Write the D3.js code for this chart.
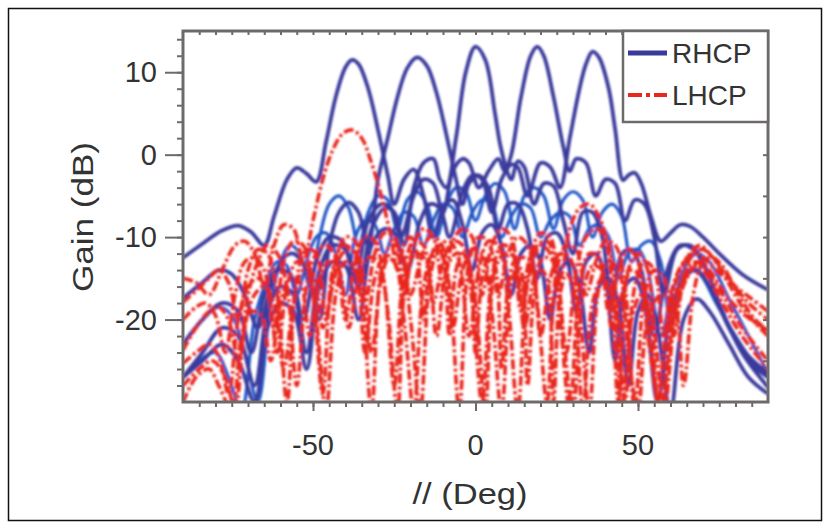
<!DOCTYPE html>
<html><head><meta charset="utf-8">
<script src="https://cdn.jsdelivr.net/npm/d3@7"></script>
<style>body{margin:0;background:#fff}svg{display:block}text{font-family:Arial,"Liberation Sans",sans-serif;fill:#333}</style>
</head><body>
<script>
// ---- data (deg, dB) ----
const xTicks = [-50, 0, 50];
const yTicks = [10, 0, -10, -20];
const legendLabels = ["RHCP", "LHCP"];

const rhcpBeam1 = [[-90,-12.5],[-84,-10.8],[-78,-9.2],[-73,-8.6],[-69,-9.4],[-65,-11],[-62,-7.5],[-58,-3],[-55,-1.6],[-52,-2.3],[-49,-3.3],[-46,1.5],[-43,7],[-40,10.6],[-38,11.5],[-36,11],[-33,8],[-30,3],[-27,-2.5],[-25,-6],[-22,-3],[-19,-1.8],[-16,-5],[-13,-10],[-10,-6.5],[-7,-5.5],[-4,-8.5],[-1,-14],[2,-9.5],[5,-8.5],[8,-11],[11,-17],[14,-12],[17,-11],[20,-13],[23,-20],[26,-14],[29,-13],[32,-16],[35,-24],[38,-16],[41,-15],[44,-18],[47,-28],[50,-19],[53,-17],[56,-21],[60,-31],[64,-20],[68,-17.5],[72,-19],[78,-23],[84,-27],[90,-29]];
const rhcpBeam2 = [[-90,-17.4],[-84,-15.5],[-79,-14],[-75,-14.5],[-71,-17],[-67,-21],[-63,-16],[-59,-12.5],[-56,-12],[-52,-14],[-48,-20],[-45,-11],[-42,-7],[-39,-5.8],[-36,-7],[-33,-11],[-30,-3],[-27,2],[-24,7],[-21,10.5],[-18,11.8],[-15,10.8],[-12,7.5],[-9,2.5],[-6,-3],[-4,-6],[-2,-3.5],[1,-2.5],[4,-4],[7,-9],[10,-6],[13,-6],[16,-9],[19,-15],[22,-10],[25,-9.5],[28,-12],[31,-19],[34,-13],[37,-12],[40,-15],[43,-25],[46,-16],[49,-15],[52,-18],[56,-30],[60,-19],[64,-15],[68,-14],[72,-16],[78,-21],[84,-25],[90,-27]];
const rhcpBeam3 = [[-90,-27],[-84,-24],[-78,-21],[-73,-22],[-68,-28],[-64,-19],[-60,-16],[-56,-17],[-52,-24],[-48,-14],[-44,-11],[-40,-11.5],[-36,-16],[-32,-9],[-28,-6.5],[-25,-7],[-22,-11],[-19,-4],[-16,-1],[-13,-0.5],[-11,-3],[-9,-4],[-6,2],[-3,10],[0,13.1],[3,11.5],[6,5],[7.5,1.4],[9,-1],[11,-3],[13,-0.8],[15,-1.5],[18,-6],[21,-3.5],[24,-3.8],[27,-8],[30,-12],[33,-7],[36,-7],[39,-10],[42,-18],[45,-12],[48,-11.5],[51,-14],[55,-22],[59,-14],[63,-11],[67,-11.5],[71,-14],[77,-20],[83,-24],[90,-26.5]];
const rhcpBeam4 = [[-90,-23],[-84,-20],[-78,-18],[-73,-19],[-69,-24],[-65,-17],[-61,-14],[-57,-14.5],[-53,-20],[-49,-13],[-45,-10],[-41,-10.5],[-37,-15],[-33,-8],[-29,-6],[-26,-6.5],[-23,-10],[-19,-5],[-16,-3],[-13,-3.5],[-10,-7],[-7,-2],[-4,-0.5],[-2,-1],[1,-4],[4,-2],[7,-0.5],[9,-2],[11,0],[14,7],[17,12],[19,13.1],[21,12],[24,7],[27,1],[29,-2],[31,-0.5],[34,-1],[37,-5],[40,-3],[43,-3.5],[46,-8],[49,-5.5],[52,-6],[55,-10],[58,-17],[62,-11.5],[66,-11],[70,-13],[76,-19],[82,-24],[90,-28.2]];
const rhcpBeam5 = [[-90,-27],[-84,-25],[-78,-23],[-73,-25],[-68,-30],[-64,-21],[-60,-18],[-56,-19],[-52,-26],[-48,-16],[-44,-13],[-40,-13.5],[-36,-20],[-32,-11],[-28,-9],[-25,-9.5],[-21,-14],[-17,-8],[-14,-6],[-11,-6.5],[-8,-10],[-4,-4.5],[-1,-2.5],[2,-3],[5,-7],[8,-3],[11,-1.2],[13,-1.5],[16,-5],[20,-1],[23,-1.5],[26,-4],[29,2],[32,8],[34,11],[36,12.5],[38,11.8],[41,8],[43,3],[45.4,-3.1],[47,-2.5],[49,-2.2],[51,-3.5],[54,-7.5],[57,-10.5],[60,-9.5],[63,-8.5],[66,-8.7],[70,-10],[75,-12],[82,-14.5],[90,-16.4]];
const rhcpLow1 = [[-90,-22.9],[-84,-20],[-79,-18.5],[-75,-19.5],[-71,-24],[-67,-30],[-63,-18],[-60,-13],[-57,-11],[-54,-12],[-51,-16],[-48,-10],[-45,-6],[-42,-5],[-39,-6.5],[-36,-11],[-33,-7],[-30,-5],[-27,-5.5],[-24,-9],[-21,-5.5],[-18,-4.5],[-15,-6],[-12,-10],[-9,-6],[-6,-4],[-3,-4.5],[0,-8],[3,-5],[6,-3.5],[9,-4.5],[12,-9],[15,-5],[18,-4],[21,-5],[24,-9],[27,-5.5],[30,-4.5],[33,-5.5],[36,-10],[39,-7],[42,-6],[45,-7.5],[48,-13],[51,-11],[54,-10.5],[57,-13],[60,-20],[64,-14],[68,-12],[72,-13],[78,-17.5],[84,-22],[90,-26.5]];
const rhcpLow2 = [[-90,-27.1],[-85,-25],[-80,-24],[-76,-27],[-72,-31],[-68,-20],[-64,-15],[-61,-13],[-58,-13.5],[-55,-17],[-52,-13],[-49,-10],[-46,-9.5],[-43,-12],[-40,-17],[-37,-10],[-34,-8],[-31,-8.5],[-28,-12],[-25,-9],[-22,-7],[-19,-7.5],[-16,-11],[-13,-8],[-10,-6],[-7,-6.5],[-4,-10],[-1,-7],[2,-5.5],[5,-6],[8,-10],[11,-7.5],[14,-6],[17,-6.5],[20,-10],[23,-8],[26,-7],[29,-7.5],[32,-11],[35,-9],[38,-8.5],[41,-10],[44,-15],[47,-12],[50,-11.5],[53,-14],[57,-22],[61,-16],[65,-14],[69,-14.5],[74,-18],[80,-22],[86,-25.5],[90,-27]];

const lhcp1 = [[-90,-15],[-86,-15.5],[-82,-17],[-78,-14],[-74,-11],[-71,-10.5],[-68,-12],[-65,-16],[-62,-11],[-59,-8.5],[-56,-9],[-53,-13],[-50,-8],[-47,-3],[-44,0.5],[-41,2.5],[-38,3],[-35,2],[-32,-1],[-29,-5],[-26,-10],[-24,-14],[-22,-11],[-20,-10],[-18,-12],[-16,-20],[-14,-13],[-12,-11],[-10,-12.5],[-8,-22],[-6,-14],[-4,-12],[-2,-13],[0,-24],[2,-15],[4,-12.5],[6,-13.5],[8,-26],[10,-16],[12,-13],[14,-14],[16,-28],[18,-17],[20,-14],[22,-15],[24,-30],[26,-17],[28,-14.5],[30,-16],[33,-31],[36,-18],[39,-15],[42,-17],[45,-31],[48,-20],[51,-17],[54,-19],[58,-31],[62,-18],[66,-14],[69,-13],[72,-14],[77,-17],[83,-19.5],[90,-21.3]];
const lhcp2 = [[-90,-17.9],[-86,-16.5],[-82,-15],[-79,-14],[-76,-15.5],[-73,-20],[-70,-14],[-67,-11.5],[-64,-12],[-61,-17],[-58,-30],[-55,-15],[-52,-11.5],[-49,-12],[-46,-20],[-43,-13],[-40,-10],[-37,-10.5],[-34,-18],[-31,-12],[-28,-9.5],[-25,-10],[-22,-17],[-19,-11],[-16,-9],[-13,-10],[-10,-16],[-7,-10.5],[-4,-9],[-1,-10],[2,-17],[5,-11],[8,-9],[11,-10],[14,-17],[17,-12],[20,-9.5],[23,-10],[26,-15],[29,-9],[32,-6.5],[35,-6],[38,-7.5],[41,-12],[44,-30],[47,-14],[50,-12],[53,-14],[56,-30],[60,-17],[64,-13],[67,-12],[70,-12.5],[74,-14],[80,-16],[85,-17.5],[90,-19]];
const lhcp3 = [[-90,-23.7],[-86,-21],[-82,-19],[-79,-18.5],[-76,-20],[-73,-25],[-70,-17],[-67,-13],[-64,-11],[-61,-12],[-58,-16],[-55,-28],[-52,-16],[-49,-12],[-46,-11],[-43,-12.5],[-40,-20],[-37,-13],[-34,-10],[-31,-10.5],[-28,-16],[-25,-28],[-22,-14],[-19,-10.5],[-16,-11],[-13,-18],[-10,-13],[-7,-10.5],[-4,-11],[-1,-18],[2,-30],[5,-15],[8,-11],[11,-11.5],[14,-19],[17,-14],[20,-11],[23,-12],[26,-20],[29,-31],[32,-16],[35,-12],[38,-12.5],[41,-19],[44,-14],[47,-11.5],[50,-13],[53,-22],[57,-31],[61,-18],[65,-14],[68,-13],[71,-14],[76,-17],[82,-21],[90,-25]];
const lhcp4 = [[-90,-25.3],[-86,-24],[-82,-23],[-79,-24.5],[-76,-29],[-73,-20],[-70,-16],[-67,-15],[-64,-16.5],[-61,-24],[-58,-16],[-55,-13],[-52,-13.5],[-49,-20],[-46,-31],[-43,-17],[-40,-13],[-37,-14],[-34,-24],[-31,-15],[-28,-12.5],[-25,-13],[-22,-20],[-19,-31],[-16,-16],[-13,-12],[-10,-12.5],[-7,-21],[-4,-14],[-1,-11.5],[2,-12],[5,-19],[8,-31],[11,-16],[14,-12.5],[17,-13],[20,-22],[23,-15],[26,-12],[29,-12.5],[32,-19],[35,-31],[38,-16],[41,-13],[44,-14],[47,-24],[50,-31],[53,-20],[57,-17],[61,-18],[64,-28],[67,-17],[70,-13],[73,-12.5],[76,-13.5],[81,-17],[86,-20],[90,-21.3]];
const lhcp5 = [[-90,-28],[-85,-26],[-81,-25],[-77,-27],[-74,-31],[-71,-21],[-68,-17],[-65,-16],[-62,-18],[-59,-26],[-56,-18],[-53,-14],[-50,-14.5],[-47,-21],[-44,-16],[-41,-12],[-38,-11.5],[-35,-14],[-32,-24],[-29,-15],[-26,-12],[-23,-12.5],[-20,-20],[-17,-31],[-14,-15],[-11,-11],[-8,-10.5],[-5,-13],[-2,-22],[1,-14],[4,-10.5],[7,-11],[10,-18],[13,-31],[16,-15],[19,-11],[22,-10.5],[25,-14],[28,-24],[31,-14],[34,-10],[37,-9],[40,-10],[43,-16],[46,-30],[49,-16],[52,-13],[55,-14],[58,-22],[62,-15],[66,-12],[69,-11],[72,-12],[77,-15],[83,-19],[90,-22]];
const lhcp6 = [[-90,-20],[-86,-18.5],[-83,-18],[-80,-19.5],[-77,-24],[-74,-17],[-71,-13],[-68,-12.5],[-65,-14],[-62,-21],[-59,-13],[-56,-10.5],[-53,-11],[-50,-17],[-47,-29],[-44,-14],[-41,-11],[-38,-11.5],[-35,-17],[-32,-31],[-29,-14],[-26,-11],[-23,-11.5],[-20,-17],[-17,-13],[-14,-10],[-11,-10.5],[-8,-16],[-5,-31],[-2,-13],[1,-10],[4,-10.5],[7,-17],[10,-12],[13,-10],[16,-11],[19,-18],[22,-30],[25,-14],[28,-11],[31,-11.5],[34,-17],[37,-13],[40,-10.5],[43,-11],[46,-16],[49,-31],[52,-17],[55,-14],[58,-15],[61,-22],[64,-15],[67,-12],[70,-11.5],[73,-12.5],[78,-15],[84,-18],[90,-20]];
const lhcp7 = [[-90,-30],[-86,-27],[-82,-26],[-79,-28],[-75,-31],[-72,-22],[-69,-19],[-66,-19.5],[-63,-25],[-60,-18],[-57,-15],[-54,-15.5],[-51,-22],[-48,-15],[-45,-13],[-42,-14],[-39,-21],[-36,-15],[-33,-12.5],[-30,-13],[-27,-19],[-24,-31],[-21,-14],[-18,-12],[-15,-13],[-12,-22],[-9,-14],[-6,-12],[-3,-12.5],[0,-18],[3,-31],[6,-14],[9,-12],[12,-12.5],[15,-21],[18,-15],[21,-12.5],[24,-13],[27,-22],[30,-31],[33,-17],[36,-13.5],[39,-14],[42,-21],[45,-17],[48,-14],[51,-15],[54,-23],[57,-31],[61,-20],[65,-15],[68,-13.5],[71,-14.5],[76,-18],[82,-22],[90,-26]];

// ---- drawing ----
const W = 831, H = 529;
const M = {left:183, top:31, right:768, bottom:402};
const navy = "#3b3a9c", blue = "#2157c6", red = "#e8271d";

const svg = d3.select("body").append("svg").attr("width", W).attr("height", H);
svg.append("rect").attr("x",8.5).attr("y",8.5).attr("width",813).attr("height",512)
   .attr("fill","#fff").attr("stroke","#111").attr("stroke-width",1.5);

const x = d3.scaleLinear().domain([-90, 90]).range([M.left, M.right]);
const y = d3.scaleLinear().domain([-30, 15]).range([M.bottom, M.top]);

const defs = svg.append("defs");
defs.append("clipPath").attr("id","clip").append("rect")
   .attr("x",M.left).attr("y",M.top).attr("width",M.right-M.left).attr("height",M.bottom-M.top);
defs.append("filter").attr("id","soft").append("feGaussianBlur").attr("stdDeviation",0.9);

const line = d3.line().x(d => x(d[0])).y(d => y(d[1])).curve(d3.curveCatmullRom.alpha(0.5));

const plot = svg.append("g").attr("clip-path","url(#clip)").append("g").attr("filter","url(#soft)");

[rhcpLow1, rhcpLow2].forEach(s => plot.append("path").attr("d", line(s))
   .attr("fill","none").attr("stroke",blue).attr("stroke-width",3.2));
[rhcpBeam1, rhcpBeam2, rhcpBeam3, rhcpBeam4, rhcpBeam5].forEach(s => plot.append("path").attr("d", line(s))
   .attr("fill","none").attr("stroke",navy).attr("stroke-width",3.8));
[lhcp1, lhcp2, lhcp3, lhcp4, lhcp5, lhcp6, lhcp7].forEach(s => plot.append("path").attr("d", line(s))
   .attr("fill","none").attr("stroke",red).attr("stroke-width",3.6).attr("stroke-dasharray","10,3,3,3"));

// frame
const axisCol = "#6f6a6a";
svg.append("rect").attr("x",M.left).attr("y",M.top).attr("width",M.right-M.left).attr("height",M.bottom-M.top)
   .attr("fill","none").attr("stroke",axisCol).attr("stroke-width",3);

// axes
const gx = svg.append("g").attr("transform",`translate(0,${M.bottom})`)
   .call(d3.axisBottom(x).tickValues(d3.range(-85, 90, 5)).tickSize(5).tickFormat(""));
const gx2 = svg.append("g").attr("transform",`translate(0,${M.bottom})`)
   .call(d3.axisBottom(x).tickValues(xTicks).tickSize(9).tickFormat(""));
const gxt = svg.append("g").attr("transform",`translate(0,${M.top})`)
   .call(d3.axisBottom(x).tickValues(d3.range(-85, 90, 5)).tickSize(4).tickFormat(""));
const gy = svg.append("g").attr("transform",`translate(${M.left},0)`)
   .call(d3.axisLeft(y).tickValues(d3.range(-28, 15, 2)).tickSize(6).tickFormat(""));
const gy2 = svg.append("g").attr("transform",`translate(${M.left},0)`)
   .call(d3.axisLeft(y).tickValues(yTicks).tickSize(18).tickFormat(""));
const gyr = svg.append("g").attr("transform",`translate(${M.right},0)`)
   .call(d3.axisLeft(y).tickValues(d3.range(-25, 15, 5)).tickSize(5).tickFormat(""));
[gx,gx2,gxt,gy,gy2,gyr].forEach(g => { g.select(".domain").remove(); g.selectAll("line").attr("stroke",axisCol).attr("stroke-width",2); });

// tick labels
svg.selectAll(".xl").data(xTicks).enter().append("text")
   .attr("x", d => x(d)).attr("y", 455).attr("text-anchor","middle")
   .attr("font-size",29).text(d => d);
svg.selectAll(".yl").data(yTicks).enter().append("text")
   .attr("x", 157).attr("y", d => y(d) + 10).attr("text-anchor","end")
   .attr("font-size",29).text(d => d);

// axis titles
svg.append("text").attr("transform","translate(93,217) rotate(-90)").attr("text-anchor","middle")
   .attr("font-size",29).attr("textLength",150).attr("lengthAdjust","spacingAndGlyphs").text("Gain (dB)");
svg.append("text").attr("x",470).attr("y",504).attr("text-anchor","middle")
   .attr("font-size",29).attr("textLength",115).attr("lengthAdjust","spacingAndGlyphs").text("// (Deg)");

// legend
const lg = svg.append("g");
lg.append("rect").attr("x",623).attr("y",M.top).attr("width",M.right-623).attr("height",91)
  .attr("fill","#fff").attr("stroke",axisCol).attr("stroke-width",2.5);
lg.append("line").attr("x1",628).attr("x2",667).attr("y1",53).attr("y2",53).attr("stroke",navy).attr("stroke-width",5);
lg.append("line").attr("x1",628).attr("x2",667).attr("y1",95).attr("y2",95).attr("stroke",red).attr("stroke-width",4).attr("stroke-dasharray","14,4,4,4");
lg.selectAll("text").data(legendLabels).enter().append("text")
  .attr("x",672).attr("y",(d,i) => 63 + i*42).attr("font-size",28).text(d => d);
</script>
</body></html>
